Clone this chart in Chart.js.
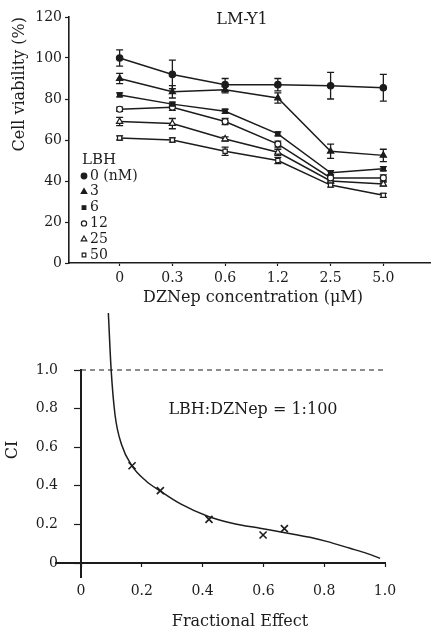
<!DOCTYPE html>
<html>
<head>
<meta charset="utf-8">
<script src="https://cdn.jsdelivr.net/npm/chart.js@4.4.1/dist/chart.umd.min.js"></script>
<style>
  html, body { margin: 0; padding: 0; background: #fff; }
  body { width: 436px; height: 634px; position: relative; overflow: hidden; }
  #c1 { position: absolute; left: 0; top: 0; }
  #c2 { position: absolute; left: 0; top: 300px; }
</style>
</head>
<body>
<canvas id="c1" width="436" height="316"></canvas>
<canvas id="c2" width="436" height="334"></canvas>
<script>
// ---------- Top chart data ----------
const chartTitle = 'LM-Y1';
const doseLabels = ['0', '0.3', '0.6', '1.2', '2.5', '5.0'];
const doseIndex = [0, 1, 2, 3, 4, 5];
const lbhTitle = 'LBH';
const lbhLabels = ['0 (nM)', '3', '6', '12', '25', '50'];
const viab0  = [100, 92, 87, 87, 86.5, 85.5];
const viab3  = [90, 83.5, 84.5, 80.5, 54.5, 52.5];
const viab6  = [82, 77.5, 74, 63, 44, 46];
const viab12 = [75, 76, 69, 58, 41.5, 41.5];
const viab25 = [69, 68, 60.5, 54, 40, 38.5];
const viab50 = [61, 60, 54.5, 50, 38, 33];
const err0  = [4, 7, 3, 3, 6.5, 6.5];
const err3  = [2.5, 3, 1.5, 2.5, 3.5, 3];
const err6  = [1, 1, 1, 1, 1, 1];
const err12 = [1, 1.5, 1.5, 1.5, 1.5, 1.5];
const err25 = [2, 2.5, 1, 1.5, 1, 1];
const err50 = [1, 1, 2, 1.5, 1, 1];
const viabTicks = [0, 20, 40, 60, 80, 100, 120];
const topXTitle = 'DZNep concentration (\u03bcM)';
const topYTitle = 'Cell viability (%)';

// ---------- Bottom chart data ----------
const ciLabel = 'LBH:DZNep = 1:100';
const faTicks = [0, 0.2, 0.4, 0.6, 0.8, 1.0];
const ciTicks = [0, 0.2, 0.4, 0.6, 0.8, 1.0];
const obsFa = [0.168, 0.261, 0.421, 0.599, 0.669];
const obsCI = [0.504, 0.375, 0.226, 0.145, 0.178];
const curveFa = [0.090, 0.099, 0.112, 0.134, 0.167, 0.214, 0.261, 0.326, 0.421, 0.501, 0.589, 0.671, 0.753, 0.808, 0.885, 0.940, 0.984];
const curveCI = [1.295, 1.005, 0.767, 0.611, 0.505, 0.425, 0.373, 0.308, 0.240, 0.205, 0.180, 0.157, 0.133, 0.112, 0.076, 0.050, 0.024];
const additivityLine = [0, 1.0];
const bottomXTitle = 'Fractional Effect';
const bottomYTitle = 'CI';

// ---------- styles ----------
const INK = '#1c1c1c';
const FONT = "'DejaVu Serif', 'Liberation Serif', serif";
Chart.defaults.font.family = FONT;
Chart.defaults.color = INK;
Chart.defaults.animation = false;

const seriesValues = [viab0, viab3, viab6, viab12, viab25, viab50];
const seriesErrors = [err0, err3, err6, err12, err25, err50];
const markerStyles = [
  { pointStyle: 'circle',   fill: INK },
  { pointStyle: 'triangle', fill: INK },
  { pointStyle: 'rect',     fill: INK },
  { pointStyle: 'circle',   fill: '#fff' },
  { pointStyle: 'triangle', fill: '#fff' },
  { pointStyle: 'rect',     fill: '#fff' }
];
const markerRadius = [3.2, 3.6, 3, 3, 3.6, 3];

const topDatasets = seriesValues.map((vals, s) => ({
  label: lbhLabels[s],
  data: vals.map((v, i) => ({ x: doseIndex[i], y: v })),
  errors: seriesErrors[s],
  borderColor: INK,
  borderWidth: 1.5,
  pointStyle: markerStyles[s].pointStyle,
  pointBackgroundColor: markerStyles[s].fill,
  pointBorderColor: INK,
  pointBorderWidth: 1.2,
  pointRadius: markerRadius[s],
  tension: 0,
  fill: false
}));

const errorBarPlugin = {
  id: 'errorBars',
  beforeDatasetsDraw(chart) {
    const ctx = chart.ctx, xs = chart.scales.x, ys = chart.scales.y;
    ctx.save();
    ctx.strokeStyle = INK;
    ctx.lineWidth = 1.3;
    chart.data.datasets.forEach(ds => {
      if (!ds.errors) return;
      ds.data.forEach((p, i) => {
        const e = ds.errors[i];
        if (!e) return;
        const x = xs.getPixelForValue(p.x);
        const y1 = ys.getPixelForValue(p.y + e);
        const y2 = ys.getPixelForValue(p.y - e);
        ctx.beginPath();
        ctx.moveTo(x, y1); ctx.lineTo(x, y2);
        ctx.moveTo(x - 3.5, y1); ctx.lineTo(x + 3.5, y1);
        ctx.moveTo(x - 3.5, y2); ctx.lineTo(x + 3.5, y2);
        ctx.stroke();
      });
    });
    ctx.restore();
  }
};

function drawText(ctx, text, x, y, size, opts = {}) {
  ctx.save();
  ctx.font = (opts.weight || 'normal') + ' ' + size + 'px ' + FONT;
  ctx.fillStyle = INK;
  ctx.textBaseline = 'middle';
  ctx.textAlign = opts.align || 'center';
  ctx.translate(x, y);
  if (opts.rotate) ctx.rotate(opts.rotate);
  ctx.fillText(text, 0, 0);
  ctx.restore();
}

const topTextPlugin = {
  id: 'topText',
  afterDraw(chart) {
    const ctx = chart.ctx, a = chart.chartArea;
    drawText(ctx, chartTitle, 242, a.top + 3, 16);
    drawText(ctx, topYTitle, 20, a.top, 16, { rotate: -Math.PI / 2, align: 'right' });
    drawText(ctx, topXTitle, 253, 298, 16);
    // legend
    drawText(ctx, lbhTitle, 82, 160, 15, { align: 'left' });
    lbhLabels.forEach((lab, s) => {
      const y = 176 + s * 15.8;
      ctx.save();
      ctx.fillStyle = markerStyles[s].fill;
      ctx.strokeStyle = INK;
      ctx.lineWidth = 1.2;
      Chart.helpers.drawPoint(ctx, { pointStyle: markerStyles[s].pointStyle, radius: markerRadius[s] - 0.4, rotation: 0, borderWidth: 1.2 }, 84, y);
      ctx.restore();
      drawText(ctx, lab, 90, y, 14, { align: 'left' });
    });
  }
};

new Chart(document.getElementById('c1'), {
  type: 'line',
  data: { datasets: topDatasets },
  options: {
    responsive: false,
    layout: { padding: { left: 0, right: 3, top: 17, bottom: 0 } },
    plugins: { legend: { display: false }, tooltip: { enabled: false } },
    scales: {
      x: {
        type: 'linear',
        min: -0.96, max: 5.9,
        afterBuildTicks(scale) { scale.ticks = doseIndex.map(v => ({ value: v })); },
        afterFit(scale) { scale.height = 53; },
        ticks: { callback: v => doseLabels[v], font: { size: 14 }, color: INK, padding: 4, maxRotation: 0 },
        grid: { display: true, drawOnChartArea: false, drawTicks: true, tickLength: 3, color: INK, tickWidth: 1.2 },
        border: { display: true, color: INK, width: 1.6 }
      },
      y: {
        min: 0, max: 120,
        afterBuildTicks(scale) { scale.ticks = viabTicks.map(v => ({ value: v })); },
        afterFit(scale) { scale.width = 69; },
        ticks: { font: { size: 14 }, color: INK, padding: 3 },
        grid: { display: true, drawOnChartArea: false, drawTicks: true, tickLength: 4, color: INK, tickWidth: 1.2 },
        border: { display: true, color: INK, width: 1.6 }
      }
    }
  },
  plugins: [errorBarPlugin, topTextPlugin]
});

// ---------- Bottom chart ----------
const bottomTextPlugin = {
  id: 'bottomText',
  afterDraw(chart) {
    const ctx = chart.ctx, xs = chart.scales.x, ys = chart.scales.y;
    // axis line extensions beyond the origin
    ctx.save();
    ctx.strokeStyle = INK;
    ctx.lineWidth = 2;
    const x0 = xs.getPixelForValue(0), y0 = ys.getPixelForValue(0);
    ctx.beginPath();
    ctx.moveTo(xs.getPixelForValue(-0.085), y0); ctx.lineTo(x0, y0);
    ctx.moveTo(x0, y0); ctx.lineTo(x0, ys.getPixelForValue(-0.078));
    ctx.stroke();
    ctx.restore();
    drawText(ctx, ciLabel, 253, 110, 16);
    drawText(ctx, bottomYTitle, 13, 150, 16, { rotate: -Math.PI / 2 });
    drawText(ctx, bottomXTitle, 240, 322, 16);
  }
};

new Chart(document.getElementById('c2'), {
  type: 'scatter',
  data: {
    datasets: [
      {
        label: 'CI curve',
        type: 'line',
        data: curveFa.map((f, i) => ({ x: f, y: curveCI[i] })),
        borderColor: INK,
        borderWidth: 1.5,
        pointRadius: 0,
        cubicInterpolationMode: 'monotone',
        fill: false,
        clip: false
      },
      {
        label: 'Additive',
        type: 'line',
        data: additivityLine.map(f => ({ x: f, y: 1.0 })),
        borderColor: INK,
        borderWidth: 1.2,
        borderDash: [5, 4],
        pointRadius: 0,
        fill: false,
        clip: false
      },
      {
        label: 'Observed',
        data: obsFa.map((f, i) => ({ x: f, y: obsCI[i] })),
        pointStyle: 'crossRot',
        pointRadius: 5,
        pointBorderColor: INK,
        pointBorderWidth: 1.6,
        showLine: false
      }
    ]
  },
  options: {
    responsive: false,
    layout: { padding: { left: 0, right: 51, top: 70, bottom: 0 } },
    plugins: { legend: { display: false }, tooltip: { enabled: false } },
    scales: {
      x: {
        type: 'linear',
        min: 0, max: 1.0,
        afterBuildTicks(scale) { scale.ticks = faTicks.map(v => ({ value: v })); },
        afterFit(scale) { scale.height = 71; },
        ticks: { callback: v => (v === 0 ? '0' : v.toFixed(1)), font: { size: 14 }, color: INK, padding: 16, maxRotation: 0 },
        grid: { display: true, drawOnChartArea: false, drawTicks: true, tickLength: 4, color: INK, tickWidth: 1.2 },
        border: { display: true, color: INK, width: 2 }
      },
      y: {
        min: 0, max: 1.0,
        afterBuildTicks(scale) { scale.ticks = ciTicks.map(v => ({ value: v })); },
        afterFit(scale) { scale.width = 81; },
        ticks: { callback: v => (v === 0 ? '0' : v.toFixed(1)), font: { size: 14 }, color: INK, padding: 16 },
        grid: { display: true, drawOnChartArea: false, drawTicks: true, tickLength: 7, color: INK, tickWidth: 1.2 },
        border: { display: true, color: INK, width: 2 }
      }
    }
  },
  plugins: [bottomTextPlugin]
});
</script>
</body>
</html>
